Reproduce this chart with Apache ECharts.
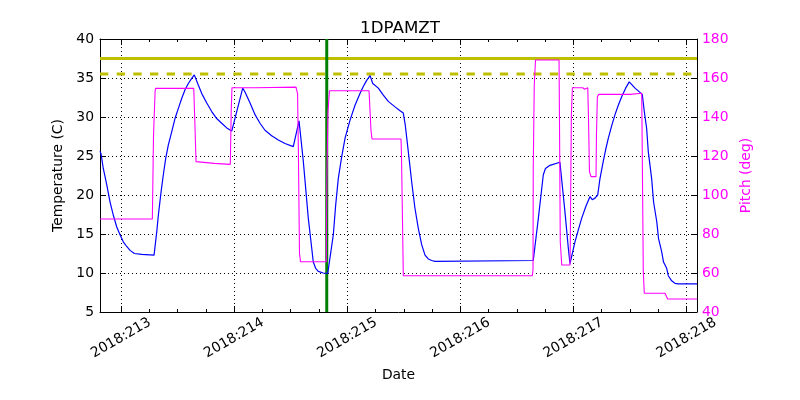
<!DOCTYPE html>
<html><head><meta charset="utf-8">
<script src="https://cdn.jsdelivr.net/npm/echarts@6/dist/echarts.min.js"></script>
<style>html,body{margin:0;padding:0;background:#fff}#chart{width:800px;height:400px}</style>
</head><body><div id="chart"></div>
<script>
const chartTitle = '1DPAMZT';
const yearText = '2018';
const xMin = 212.814;
const xMax = 218.093;
const xTickDays = [213, 214, 215, 216, 217, 218];
const xMinorDays = [213.25, 213.5, 213.75, 214.25, 214.5, 214.75, 215.25, 215.5, 215.75,
  216.25, 216.5, 216.75, 217.25, 217.5, 217.75];
const tempMin = 5, tempMax = 40, tempStep = 5;
const pitchMin = 40, pitchMax = 180, pitchStep = 20;
const planningLimit = 37.5;
const cautionLimit = 35.5;
const markerDay = 214.819;

const tempDays = [
  212.814, 212.823, 212.843, 212.874, 212.903, 212.932, 212.962, 212.991, 213.020, 213.050, 213.080, 213.118, 213.183, 213.292,
  213.316, 213.330, 213.354, 213.374, 213.395, 213.418, 213.448, 213.477, 213.507, 213.537, 213.566, 213.595, 213.625, 213.648,
  213.683, 213.714, 213.758, 213.802, 213.846, 213.890, 213.935, 213.979,
  214.076, 214.096, 214.141, 214.185, 214.229, 214.273, 214.332, 214.391, 214.450, 214.523,
  214.574, 214.612, 214.656, 214.686, 214.700, 214.721, 214.744, 214.788, 214.828,
  214.877, 214.898, 214.921, 214.951, 214.981, 215.025, 215.069, 215.113, 215.142, 215.172, 215.202,
  215.226, 215.275, 215.319, 215.363, 215.423, 215.467, 215.496,
  215.513, 215.540, 215.570, 215.599, 215.629, 215.659, 215.688, 215.717, 215.747, 215.776,
  216.645, 216.690, 216.734, 216.753, 216.793, 216.881,
  216.925, 216.955, 216.970,
  217.014, 217.043, 217.073, 217.109, 217.147, 217.167, 217.191, 217.215, 217.235, 217.264,
  217.285, 217.309, 217.339, 217.368, 217.397, 217.427, 217.462, 217.494, 217.545, 217.609,
  217.627, 217.648, 217.662, 217.692, 217.709, 217.737, 217.753, 217.781, 217.797, 217.825, 217.839, 217.869, 217.898, 217.927,
  218.093];
const tempValues = [
  25.6, 25.3, 23.4, 21.3, 19.1, 17.4, 15.9, 14.9, 14.0, 13.4, 12.9, 12.5, 12.4, 12.3,
  15.3, 17.4, 20.4, 22.6, 24.7, 26.4, 28.1, 29.8, 31.1, 32.4, 33.5, 34.3, 34.96, 35.4,
  34.1, 33.0, 31.8, 30.7, 29.8, 29.2, 28.6, 28.2,
  33.7, 33.2, 31.8, 30.3, 29.2, 28.3, 27.6, 27.05, 26.6, 26.2,
  29.5, 24.3, 17.0, 13.2, 11.4, 10.6, 10.2, 10.0, 9.96,
  14.9, 18.7, 22.1, 24.9, 27.3, 29.6, 31.5, 33.0, 33.9, 34.7, 35.3,
  34.3, 33.7, 32.8, 32.0, 31.3, 30.8, 30.5,
  29.0, 25.6, 21.7, 18.3, 15.7, 13.6, 12.3, 11.8, 11.6, 11.5,
  11.6, 17.0, 22.6, 23.4, 23.8, 24.2,
  17.9, 13.2, 11.2,
  14.0, 15.5, 17.0, 18.5, 19.8, 19.4, 19.6, 20.0, 22.1, 24.3,
  25.8, 27.3, 28.9, 30.3, 31.5, 32.6, 33.7, 34.5, 33.7, 32.9,
  30.7, 28.5, 25.6, 22.1, 19.1, 16.6, 14.4, 12.7, 11.4, 10.6, 9.65, 9.0, 8.68, 8.6,
  8.6];

const pitchDays = [212.814, 213.277, 213.283, 213.287, 213.296, 213.301, 213.305, 213.643, 213.645,
  213.652, 213.654, 213.660, 213.663, 213.669, 213.825, 213.827, 213.966, 213.968, 213.974, 213.980,
  213.981, 214.185, 214.187, 214.547, 214.561, 214.568, 214.576, 214.578, 214.587, 214.815, 214.820,
  214.828, 214.830, 214.837, 214.843, 215.193, 215.197, 215.204, 215.210, 215.217, 215.219, 215.476,
  215.480, 215.485, 215.487, 215.493, 215.496, 216.637, 216.643, 216.645, 216.652, 216.654, 216.660,
  216.665, 216.873, 216.877, 216.882, 216.884, 216.890, 216.897, 216.970, 216.973, 216.978, 216.982,
  216.986, 216.991, 217.082, 217.091, 217.100, 217.107, 217.127, 217.133, 217.139, 217.142, 217.153,
  217.156, 217.200, 217.204, 217.209, 217.212, 217.224, 217.500, 217.505, 217.604, 217.609, 217.615,
  217.618, 217.624, 217.627, 217.810, 217.834, 218.093];
const pitchValues = [87.7, 87.7, 88.5, 130, 130, 153, 154.7, 154.7, 154,
  154, 135, 135, 117.1, 116.2, 116.2, 115.7, 115.7, 121, 142.7, 142.7,
  155.0, 155.0, 154.6, 155.3, 152, 124, 124, 70, 65.8, 65.8, 108.6,
  108.6, 142.7, 142.7, 153.5, 153.5, 148.7, 148.7, 133.3, 133.3, 128.7, 128.7,
  120, 120, 94, 94, 58.6, 58.6, 62, 113.7, 113.7, 156.4, 156.4,
  169.2, 169.2, 138.5, 138.5, 76, 76, 64.1, 64.1, 78, 78, 141,
  141, 155, 155, 154.2, 154.2, 155, 155, 141, 141, 112, 112,
  109.4, 109.4, 130.8, 130.8, 150.4, 151.6, 151.6, 152.2, 152.2, 122.2, 122.2,
  60.7, 60.7, 49.6, 49.6, 46.7, 46.7];

const zip = (xs, ys) => xs.map((x, i) => [x, ys[i]]);
const FONT = 'DejaVu Sans';
const FS = 13.9;
const black = '#000000';
const magenta = '#ff00ff';
const gridBox = { left: 100, right: 103, top: 39, bottom: 88, containLabel: false, outerBoundsMode: 'none' };

const chart = echarts.init(document.getElementById('chart'), null, { renderer: 'canvas' });
const option = {
  animation: false,
  backgroundColor: '#ffffff',
  textStyle: { fontFamily: FONT },
  title: {
    text: chartTitle, left: 'center', top: 15,
    textStyle: { fontFamily: FONT, fontSize: 16.7, fontWeight: 'normal', color: black }
  },
  grid: [Object.assign({}, gridBox), Object.assign({}, gridBox)],
  xAxis: [
    {
      gridIndex: 0, type: 'value', position: 'bottom', min: xMin, max: xMax,
      name: 'Date', nameLocation: 'middle', nameGap: 56,
      nameTextStyle: { color: black, fontSize: FS, fontFamily: FONT },
      axisLine: { show: true, onZero: false, lineStyle: { color: black, width: 1 } },
      axisTick: { show: true, inside: true, length: 6, customValues: xTickDays, lineStyle: { color: black, width: 1 } },
      axisLabel: {
        customValues: xTickDays, rotate: 30, align: 'center', verticalAlign: 'middle', margin: 26,
        color: black, fontSize: FS, fontFamily: FONT,
        formatter: v => yearText + ':' + Math.round(v)
      },
      splitLine: { show: true, lineStyle: { color: black, width: 1, type: [1, 3] } },
      minorTick: { show: false }
    },
    {
      gridIndex: 0, type: 'value', position: 'top', min: xMin, max: xMax,
      axisLine: { show: true, onZero: false, lineStyle: { color: black, width: 1 } },
      axisTick: { show: true, inside: true, length: 6, customValues: xTickDays, lineStyle: { color: black, width: 1 } },
      axisLabel: { show: false },
      splitLine: { show: false }
    },
    {
      gridIndex: 1, type: 'value', position: 'bottom', min: xMin, max: xMax,
      axisLine: { show: false, onZero: false },
      axisTick: { show: true, inside: true, length: 3, customValues: xMinorDays, lineStyle: { color: black, width: 1 } },
      axisLabel: { show: false },
      splitLine: { show: false }
    },
    {
      gridIndex: 1, type: 'value', position: 'top', min: xMin, max: xMax,
      axisLine: { show: false, onZero: false },
      axisTick: { show: true, inside: true, length: 3, customValues: xMinorDays, lineStyle: { color: black, width: 1 } },
      axisLabel: { show: false },
      splitLine: { show: false }
    }
  ],
  yAxis: [
    {
      gridIndex: 0, type: 'value', position: 'left', min: tempMin, max: tempMax, interval: tempStep,
      name: 'Temperature (C)', nameLocation: 'middle', nameGap: 25, nameRotate: 90,
      nameTextStyle: { color: black, fontSize: FS, fontFamily: FONT },
      axisLine: { show: true, onZero: false, lineStyle: { color: black, width: 1 } },
      axisTick: { show: true, inside: true, length: 6, lineStyle: { color: black, width: 1 } },
      axisLabel: { color: black, fontSize: FS, fontFamily: FONT, margin: 6 },
      splitLine: { show: true, lineStyle: { color: black, width: 1, type: [1, 3] } }
    },
    {
      gridIndex: 0, type: 'value', position: 'right', min: pitchMin, max: pitchMax, interval: pitchStep,
      name: 'Pitch (deg)', nameLocation: 'middle', nameGap: 29, nameRotate: 90,
      nameTextStyle: { color: magenta, fontSize: FS, fontFamily: FONT },
      axisLine: { show: true, onZero: false, lineStyle: { color: black, width: 1 } },
      axisTick: { show: true, inside: true, length: 6, lineStyle: { color: black, width: 1 } },
      axisLabel: { color: magenta, fontSize: FS, fontFamily: FONT, margin: 5 },
      splitLine: { show: false }
    },
    { gridIndex: 1, type: 'value', min: 0, max: 1, show: false }
  ],
  series: [
    {
      name: 'planning', type: 'line', xAxisIndex: 0, yAxisIndex: 0, z: 2,
      data: [[xMin, planningLimit], [xMax, planningLimit]],
      showSymbol: false, lineStyle: { color: '#bfbf00', width: 3 }, silent: true
    },
    {
      name: 'caution', type: 'line', xAxisIndex: 0, yAxisIndex: 0, z: 2,
      data: [[xMin, cautionLimit], [xMax, cautionLimit]],
      showSymbol: false, lineStyle: { color: '#bfbf00', width: 3, type: [8.33, 8.33] }, silent: true
    },
    {
      name: 'marker', type: 'line', xAxisIndex: 0, yAxisIndex: 0, z: 2,
      data: [[markerDay, tempMin], [markerDay, tempMax]],
      showSymbol: false, lineStyle: { color: '#008000', width: 3 }, silent: true
    },
    {
      name: 'temp', type: 'line', xAxisIndex: 0, yAxisIndex: 0, z: 3,
      data: zip(tempDays, tempValues),
      showSymbol: false, lineStyle: { color: '#0000ff', width: 1.2 }, silent: true
    },
    {
      name: 'pitch', type: 'line', xAxisIndex: 0, yAxisIndex: 1, z: 5,
      data: zip(pitchDays, pitchValues),
      showSymbol: false, lineStyle: { color: magenta, width: 1.1 }, silent: true
    }
  ]
};
chart.setOption(option);
</script>
</body></html>
